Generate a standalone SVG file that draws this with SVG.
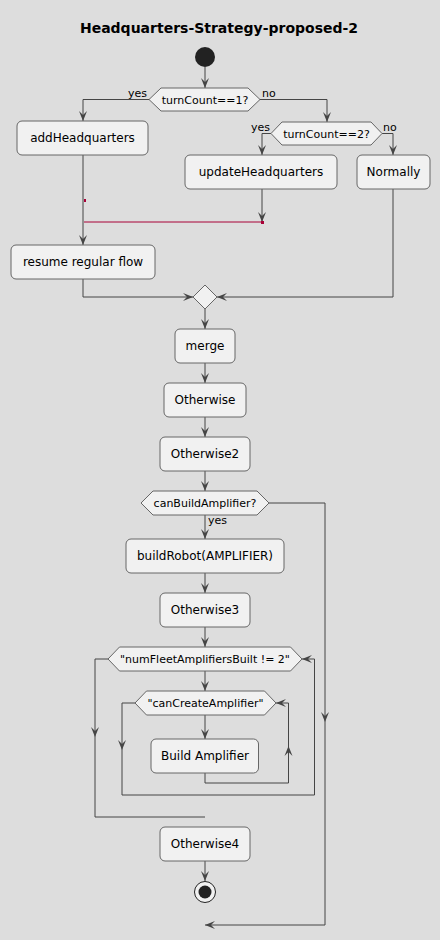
<svg xmlns="http://www.w3.org/2000/svg" width="440" height="940" viewBox="0 0 440 940">
<defs>
<marker id="ah" viewBox="0 -5 10 10" refX="10" refY="0" markerWidth="10" markerHeight="10" markerUnits="userSpaceOnUse" orient="auto">
<path d="M0,-4 L10,0 L0,4 L4,0 Z" fill="#454545"/>
</marker>
</defs>
<style>
.box{fill:#F1F1F1;stroke:#666666;stroke-width:1}
.t{font-family:"DejaVu Sans","Liberation Sans",sans-serif;font-size:12px;fill:#000;text-anchor:middle}
.d{font-family:"DejaVu Sans","Liberation Sans",sans-serif;font-size:11px;fill:#000;text-anchor:middle}
.l{font-family:"DejaVu Sans","Liberation Sans",sans-serif;font-size:11px;fill:#000}
.c{fill:none;stroke:#454545;stroke-width:1}
.a{marker-end:url(#ah)}
</style>
<rect width="440" height="940" fill="#DDDDDD"/>
<text x="219" y="33" font-family="DejaVu Sans, Liberation Sans, sans-serif" font-size="14" font-weight="bold" text-anchor="middle">Headquarters-Strategy-proposed-2</text>

<g id="connectors">
<path class="c a" d="M205,67 V88"/>
<path class="c a" d="M149,99.5 H83 V121"/>
<path class="c a" d="M260,99.5 H327 V122"/>
<path class="c a" d="M271,133.5 H262 V155"/>
<path class="c a" d="M382,133.5 H393 V155"/>
<path class="c a" d="M262,189 V222"/>
<path d="M84,222 H262" fill="none" stroke="#A80036" stroke-width="1"/>
<rect x="261" y="221" width="3" height="3" fill="#A80036"/>
<rect x="84" y="199" width="2" height="3" fill="#A80036"/>
<path class="c a" d="M83,155 V245"/>
<path class="c a" d="M83,279 V297 H193"/>
<path class="c a" d="M393,189 V297 H217"/>
<path class="c a" d="M205,309 V329"/>
<path class="c a" d="M205,363 V383"/>
<path class="c a" d="M205,417 V437"/>
<path class="c a" d="M205,471 V491"/>
<path class="c a" d="M205,515 V539"/>
<path class="c a" d="M205,573 V593"/>
<path class="c a" d="M205,627 V647"/>
<path class="c a" d="M205,671 V691"/>
<path class="c a" d="M205,715 V739"/>
<path class="c a" d="M205,773 V783 H288.5 V746"/>
<path class="c a" d="M288.5,746 V703 H276"/>
<path class="c a" d="M135,703 H122 V750"/>
<path class="c a" d="M122,750 V795 H314.5 V659 H302"/>
<path class="c a" d="M108,659 H95 V737"/>
<path class="c" d="M95,737 V817 H205"/>
<path class="c a" d="M269,503 H325 V722"/>
<path class="c a" d="M325,722 V925 H205"/>
<path class="c a" d="M205,861 V881"/>
</g>

<g id="start"><circle cx="205" cy="57" r="10" fill="#222222"/></g>

<g id="d1">
<polygon class="box" points="149,99.5 161,88 248,88 260,99.5 248,111 161,111"/>
<text class="d" x="205" y="103.5">turnCount==1?</text>
<text class="l" x="147" y="97" text-anchor="end">yes</text>
<text class="l" x="262" y="97">no</text>
</g>

<g id="addHeadquarters">
<rect class="box" x="17" y="121" width="131" height="34" rx="5"/>
<text class="t" x="82.5" y="142">addHeadquarters</text>
</g>

<g id="d2">
<polygon class="box" points="271,133.5 282,122 371,122 382,133.5 371,145 282,145"/>
<text class="d" x="326.5" y="137.5">turnCount==2?</text>
<text class="l" x="270" y="131" text-anchor="end">yes</text>
<text class="l" x="383" y="131">no</text>
</g>

<g id="updateHeadquarters">
<rect class="box" x="185" y="155" width="152" height="34" rx="5"/>
<text class="t" x="261" y="176">updateHeadquarters</text>
</g>

<g id="normally">
<rect class="box" x="357" y="155" width="73" height="34" rx="5"/>
<text class="t" x="393.5" y="176">Normally</text>
</g>

<g id="resume">
<rect class="box" x="11" y="245" width="144" height="34" rx="5"/>
<text class="t" x="83" y="266">resume regular flow</text>
</g>

<g id="mergeDiamond">
<polygon class="box" points="205,285 217,297 205,309 193,297"/>
</g>

<g id="merge">
<rect class="box" x="175" y="329" width="60" height="34" rx="5"/>
<text class="t" x="205" y="350">merge</text>
</g>

<g id="otherwise">
<rect class="box" x="164" y="383" width="82" height="34" rx="5"/>
<text class="t" x="205" y="404">Otherwise</text>
</g>

<g id="otherwise2">
<rect class="box" x="160" y="437" width="90" height="34" rx="5"/>
<text class="t" x="205" y="458">Otherwise2</text>
</g>

<g id="canBuild">
<polygon class="box" points="141,503 153,491 257,491 269,503 257,515 153,515"/>
<text class="d" x="205" y="507">canBuildAmplifier?</text>
<text class="l" x="208" y="524">yes</text>
</g>

<g id="buildRobot">
<rect class="box" x="126" y="539" width="158" height="34" rx="5"/>
<text class="t" x="205" y="560">buildRobot(AMPLIFIER)</text>
</g>

<g id="otherwise3">
<rect class="box" x="160" y="593" width="90" height="34" rx="5"/>
<text class="t" x="205" y="614">Otherwise3</text>
</g>

<g id="numFleet">
<polygon class="box" points="108,659 119.5,647 290.5,647 302,659 290.5,671 119.5,671"/>
<text class="d" x="205" y="663">"numFleetAmplifiersBuilt != 2"</text>
</g>

<g id="canCreate">
<polygon class="box" points="135,703 146.5,691 264.5,691 276,703 264.5,715 146.5,715"/>
<text class="d" x="205.5" y="707">"canCreateAmplifier"</text>
</g>

<g id="buildAmplifier">
<rect class="box" x="151" y="739" width="107.5" height="34" rx="5"/>
<text class="t" x="205" y="760">Build Amplifier</text>
</g>

<g id="otherwise4">
<rect class="box" x="160" y="827" width="90" height="34" rx="5"/>
<text class="t" x="205" y="848">Otherwise4</text>
</g>

<g id="end">
<circle cx="205" cy="892" r="10.5" fill="#F1F1F1" stroke="#222222" stroke-width="1"/>
<circle cx="205" cy="892" r="6.5" fill="#222222"/>
</g>
</svg>
